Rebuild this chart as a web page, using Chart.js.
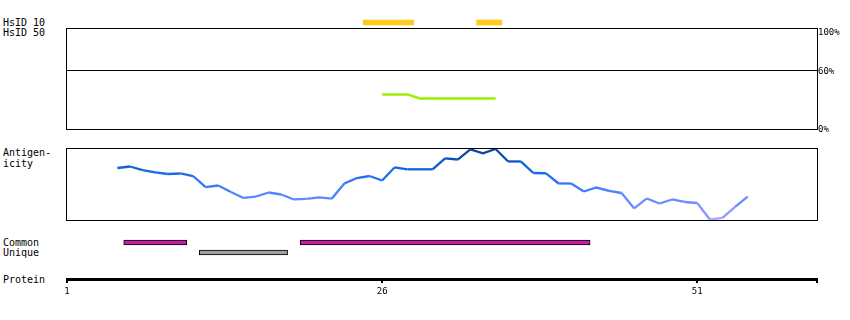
<!DOCTYPE html>
<html><head><meta charset="utf-8">
<script src="https://cdn.jsdelivr.net/npm/chart.js@4/dist/chart.umd.min.js"></script>
<style>
html,body{margin:0;padding:0;background:#fff;}
#wrap{position:relative;width:850px;height:320px;overflow:hidden;background:#fff;font-family:"DejaVu Sans Mono",monospace;font-size:10px;color:#000;}
.lbl{position:absolute;left:3px;line-height:11px;white-space:pre;}
.cv{position:absolute;left:0;width:850px;}
canvas{display:block;}
</style></head><body>
<div id="wrap">
  <div class="lbl" style="top:17px">HsID 10</div>
  <div class="lbl" style="top:27px">HsID 50</div>
  <div class="lbl" style="top:147px">Antigen-<br>icity</div>
  <div class="lbl" style="top:237px">Common</div>
  <div class="lbl" style="top:247px">Unique</div>
  <div class="lbl" style="top:274px">Protein</div>
  <div class="cv" style="top:10px;height:25px"><canvas id="c1" width="850" height="25"></canvas></div>
  <div class="cv" style="top:20px;height:120px"><canvas id="c2" width="850" height="120"></canvas></div>
  <div class="cv" style="top:140px;height:90px"><canvas id="c3" width="850" height="90"></canvas></div>
  <div class="cv" style="top:230px;height:35px"><canvas id="c4" width="850" height="35"></canvas></div>
  <div class="cv" style="top:260px;height:60px"><canvas id="c5" width="850" height="60"></canvas></div>
</div>
<script>
// ---- data ----
const residueMin = 1;
const residueMax = 60.5;
const axisTicks = [1, 26, 51];

const hsid10Ranges = [[24.5, 28.5], [33.5, 35.5]];

const hsid50Residues = [26, 27, 28, 29, 30, 31, 32, 33, 34, 35];
const hsid50Percent  = [35.3, 35.3, 35.3, 31.1, 31.1, 31.1, 31.1, 31.1, 31.1, 31.1];
const hsid50Ticks = [0, 60, 100];
const hsid50Grid = 60;

const antigenResidues = [5,6,7,8,9,10,11,12,13,14,15,16,17,18,19,20,21,22,23,24,25,26,27,28,29,30,
  31,32,33,34,35,36,37,38,39,40,41,42,43,44,45,46,47,48,49,50,51,52,53,54,55];
const antigenValues = [0.722,0.743,0.694,0.660,0.639,0.646,0.611,0.458,0.479,0.389,0.306,0.326,0.382,0.354,
  0.285,0.292,0.315,0.296,0.507,0.583,0.611,0.549,0.732,0.704,0.704,0.704,0.857,0.840,0.982,0.926,0.986,
  0.813,0.813,0.653,0.649,0.507,0.507,0.396,0.451,0.403,0.375,0.160,0.299,0.229,0.285,0.250,0.236,0.007,
  0.028,0.181,0.326];

const commonRanges = [[5.5, 10.5], [19.5, 42.5]];
const uniqueRanges = [[11.5, 18.5]];

// ---- helpers ----
const MONO = "'DejaVu Sans Mono', monospace";
const stops = [
  [0.00, [182, 166, 255]],
  [0.15, [128, 146, 255]],
  [0.30, [96, 136, 255]],
  [0.50, [48, 122, 250]],
  [0.70, [18, 102, 226]],
  [0.85, [10, 82, 188]],
  [1.00, [8, 66, 148]]
];
function colorFor(v) {
  v = Math.max(0, Math.min(1, v));
  for (let i = 1; i < stops.length; i++) {
    if (v <= stops[i][0]) {
      const [a, ca] = stops[i - 1], [b, cb] = stops[i];
      const t = (v - a) / (b - a);
      const c = ca.map((x, k) => Math.round(x + (cb[k] - x) * t));
      return `rgb(${c[0]},${c[1]},${c[2]})`;
    }
  }
  return 'rgb(8,66,148)';
}
const frame = {
  id: 'frame',
  afterDraw(chart) {
    const {ctx, chartArea: a} = chart;
    ctx.save();
    ctx.strokeStyle = '#000';
    ctx.lineWidth = 1;
    ctx.strokeRect(a.left - 0.5, a.top + 0.5, a.right - a.left + 1, a.bottom - a.top - 1);
    ctx.restore();
  }
};
const hiddenX = {type: 'linear', min: residueMin, max: residueMax, display: false};
const base = {
  responsive: false,
  animation: false,
  plugins: {legend: {display: false}, tooltip: {enabled: false}},
  events: []
};

// ---- HsID 10 ----
new Chart(document.getElementById('c1'), {
  type: 'bar',
  data: {
    labels: ['HsID 10'],
    datasets: [{
      data: hsid10Ranges.map(r => ({x: r, y: 'HsID 10'})),
      backgroundColor: '#ffca1c',
      barThickness: 5,
      grouped: false
    }]
  },
  options: Object.assign({}, base, {
    indexAxis: 'y',
    layout: {padding: {left: 67, right: 33, top: 0, bottom: 0}},
    scales: {x: hiddenX, y: {display: false}}
  })
});

// ---- HsID 50 ----
new Chart(document.getElementById('c2'), {
  type: 'line',
  data: {
    datasets: [{
      data: hsid50Residues.map((r, i) => ({x: r, y: hsid50Percent[i]})),
      borderColor: '#9cf000',
      borderWidth: 2.5,
      pointRadius: 0,
      tension: 0
    }]
  },
  options: Object.assign({}, base, {
    layout: {padding: {left: 67, right: 0, top: 8, bottom: 10}},
    scales: {
      x: hiddenX,
      y: {
        position: 'right',
        min: -1.5, max: 104,
        afterFit: s => { s.width = 33; },
        afterBuildTicks: s => { s.ticks = hsid50Ticks.map(v => ({value: v})); },
        ticks: {
          callback: v => v + '%',
          color: '#000',
          padding: 1,
          labelOffset: 1,
          font: {family: MONO, size: 9}
        },
        grid: {
          drawTicks: false,
          lineWidth: 1,
          color: c => (c.tick && c.tick.value === hsid50Grid) ? '#000' : 'rgba(0,0,0,0)'
        },
        border: {display: false}
      }
    }
  }),
  plugins: [frame]
});

// ---- Antigenicity ----
new Chart(document.getElementById('c3'), {
  type: 'line',
  data: {
    datasets: [{
      data: antigenResidues.map((r, i) => ({x: r, y: antigenValues[i]})),
      borderWidth: 2.3,
      pointRadius: 0,
      tension: 0,
      borderColor: colorFor(0.6),
      segment: {
        borderColor: c => colorFor((c.p0.parsed.y + c.p1.parsed.y) / 2)
      }
    }]
  },
  options: Object.assign({}, base, {
    layout: {padding: {left: 67, right: 33, top: 8, bottom: 9}},
    scales: {x: hiddenX, y: {display: false, min: -0.014, max: 1.0}}
  }),
  plugins: [frame]
});

// ---- Common / Unique ----
new Chart(document.getElementById('c4'), {
  type: 'bar',
  data: {
    labels: ['Common', 'Unique'],
    datasets: [
      {
        data: commonRanges.map(r => ({x: r, y: 'Common'})),
        backgroundColor: '#c41ea6',
        borderColor: '#000',
        borderWidth: 1,
        borderSkipped: false,
        barThickness: 5,
        grouped: false
      },
      {
        data: uniqueRanges.map(r => ({x: r, y: 'Unique'})),
        backgroundColor: '#a0a0a0',
        borderColor: '#000',
        borderWidth: 1,
        borderSkipped: false,
        barThickness: 5,
        grouped: false
      }
    ]
  },
  options: Object.assign({}, base, {
    indexAxis: 'y',
    layout: {padding: {left: 67, right: 33, top: 7.5, bottom: 7.5}},
    scales: {x: hiddenX, y: {display: false}}
  })
});

// ---- Protein axis ----
new Chart(document.getElementById('c5'), {
  type: 'line',
  data: {datasets: [{data: []}]},
  options: Object.assign({}, base, {
    layout: {padding: {left: 67, right: 33, top: 5, bottom: 11}},
    scales: {
      x: {
        type: 'linear',
        min: residueMin, max: residueMax,
        afterFit: s => { s.height = 30; },
        afterBuildTicks: s => { s.ticks = axisTicks.concat([residueMax]).map(v => ({value: v})); },
        ticks: {
          autoSkip: false,
          maxRotation: 0,
          padding: 3,
          color: '#000',
          font: {family: MONO, size: 9},
          callback: v => axisTicks.includes(v) ? String(v) : ''
        },
        grid: {drawOnChartArea: false, drawTicks: true, tickLength: 4, lineWidth: 2, color: '#000'},
        border: {display: true, width: 3, color: '#000'}
      },
      y: {display: false}
    }
  })
});
</script>
</body></html>
